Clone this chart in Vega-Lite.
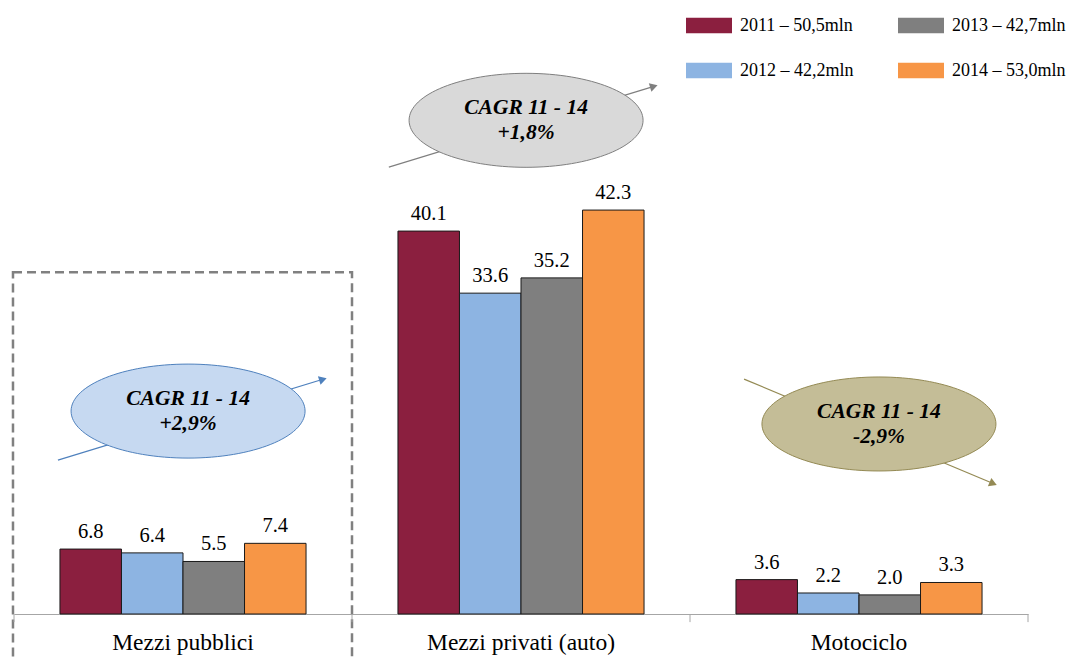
{
  "$schema": "https://vega.github.io/schema/vega-lite/v6.json",
  "width": 1014,
  "height": 614,
  "autosize": {"type": "none"},
  "padding": {"left": 14, "top": 0, "right": 40, "bottom": 47},
  "background": "white",
  "config": {"view": {"stroke": null}, "font": "Liberation Serif, Times New Roman, DejaVu Serif, serif"},
  "datasets": {
    "barre": [
      {"cat": "Mezzi pubblici", "serie": "2011 – 50,5mln", "val": 6.8},
      {"cat": "Mezzi pubblici", "serie": "2012 – 42,2mln", "val": 6.4},
      {"cat": "Mezzi pubblici", "serie": "2013 – 42,7mln", "val": 5.5},
      {"cat": "Mezzi pubblici", "serie": "2014 – 53,0mln", "val": 7.4},
      {"cat": "Mezzi privati (auto)", "serie": "2011 – 50,5mln", "val": 40.1},
      {"cat": "Mezzi privati (auto)", "serie": "2012 – 42,2mln", "val": 33.6},
      {"cat": "Mezzi privati (auto)", "serie": "2013 – 42,7mln", "val": 35.2},
      {"cat": "Mezzi privati (auto)", "serie": "2014 – 53,0mln", "val": 42.3},
      {"cat": "Motociclo", "serie": "2011 – 50,5mln", "val": 3.6},
      {"cat": "Motociclo", "serie": "2012 – 42,2mln", "val": 2.2},
      {"cat": "Motociclo", "serie": "2013 – 42,7mln", "val": 2.0},
      {"cat": "Motociclo", "serie": "2014 – 53,0mln", "val": 3.3}
    ],
    "cagr": [
      {"grp": "pubblici", "u": 0.515, "v": 21.25, "testo": "CAGR 11 - 14\n+2,9%"},
      {"grp": "privati", "u": 1.515, "v": 51.7, "testo": "CAGR 11 - 14\n+1,8%"},
      {"grp": "moto", "u": 2.559, "v": 19.9, "testo": "CAGR 11 - 14\n-2,9%"}
    ],
    "frecce": [
      {"grp": "pubblici", "u": 0.130, "v": 16.12, "u2": 0.914, "v2": 24.58},
      {"grp": "privati", "u": 1.109, "v": 46.8, "u2": 1.893, "v2": 55.26},
      {"grp": "moto", "u": 2.160, "v": 24.6, "u2": 2.897, "v2": 13.66}
    ],
    "riquadro": [
      {"u": -0.003, "v": 35.8, "u2": 1.0, "v2": -6}
    ],
    "tacche": [
      {"u": 0, "v": 0, "v2": -0.85},
      {"u": 1, "v": 0, "v2": -0.85},
      {"u": 2, "v": 0, "v2": -0.85},
      {"u": 3, "v": 0, "v2": -0.85}
    ]
  },
  "layer": [
    {
      "data": {"name": "barre"},
      "encoding": {
        "x": {
          "field": "cat",
          "type": "nominal",
          "sort": ["Mezzi pubblici", "Mezzi privati (auto)", "Motociclo"],
          "scale": {"paddingInner": 0.272, "paddingOuter": 0.136},
          "axis": {
            "title": null,
            "ticks": false,
            "grid": false,
            "domainColor": "#A6A6A6",
            "domainWidth": 1,
            "labelFont": "Liberation Serif, Times New Roman, DejaVu Serif, serif",
            "labelFontSize": 23.5,
            "labelColor": "#000000",
            "labelPadding": 16,
            "labelLimit": 400,
            "labelAngle": 0
          }
        },
        "xOffset": {
          "field": "serie",
          "type": "nominal",
          "sort": ["2011 – 50,5mln", "2012 – 42,2mln", "2013 – 42,7mln", "2014 – 53,0mln"],
          "scale": {"paddingInner": 0, "paddingOuter": 0}
        },
        "y": {
          "field": "val",
          "type": "quantitative",
          "scale": {"domain": [0, 64.3], "nice": false, "zero": false},
          "axis": null
        }
      },
      "layer": [
        {
          "mark": {"type": "bar", "stroke": "#1a1a1a", "strokeWidth": 1},
          "encoding": {
            "color": {
              "field": "serie",
              "type": "nominal",
              "scale": {
                "domain": ["2011 – 50,5mln", "2012 – 42,2mln", "2013 – 42,7mln", "2014 – 53,0mln"],
                "range": ["#8B1F3F", "#8DB4E2", "#7F7F7F", "#F79646"]
              },
              "legend": {
                "title": null,
                "orient": "none",
                "legendX": 672,
                "legendY": 2.5,
                "columns": 2,
                "padding": 0,
                "columnPadding": 44,
                "rowPadding": 13,
                "symbolType": "M-1,-0.34H1V0.34H-1Z",
                "symbolSize": 2116,
                "symbolStrokeWidth": 0,
                "symbolOpacity": 1,
                "labelFont": "Liberation Serif, Times New Roman, DejaVu Serif, serif",
                "labelFontSize": 18,
                "labelColor": "#000000",
                "labelOffset": 8,
                "labelLimit": 400
              }
            }
          }
        },
        {
          "mark": {"type": "text", "dy": -11, "baseline": "alphabetic", "fontSize": 20.5, "color": "#000000", "font": "Liberation Serif, Times New Roman, DejaVu Serif, serif"},
          "encoding": {
            "text": {"field": "val", "type": "quantitative", "format": ".1f"}
          }
        }
      ]
    },
    {
      "layer": [
        {
          "data": {"name": "riquadro"},
          "mark": {"type": "rect", "fill": "transparent", "stroke": "#808080", "strokeWidth": 2.5, "strokeDash": [9, 5], "clip": false},
          "encoding": {
            "x": {"field": "u", "type": "quantitative", "scale": {"domain": [0, 3], "nice": false, "zero": false}, "axis": null},
            "x2": {"field": "u2"},
            "y": {"field": "v", "type": "quantitative", "scale": {"domain": [0, 64.3], "nice": false, "zero": false}, "axis": null},
            "y2": {"field": "v2"}
          }
        },
        {
          "data": {"name": "tacche"},
          "mark": {"type": "rule", "stroke": "#A6A6A6", "strokeWidth": 1},
          "encoding": {
            "x": {"field": "u", "type": "quantitative", "scale": {"domain": [0, 3], "nice": false, "zero": false}, "axis": null},
            "y": {"field": "v", "type": "quantitative", "scale": {"domain": [0, 64.3], "nice": false, "zero": false}, "axis": null},
            "y2": {"field": "v2"}
          }
        },
        {
          "data": {"name": "frecce"},
          "mark": {"type": "rule", "strokeWidth": 1.2},
          "encoding": {
            "x": {"field": "u", "type": "quantitative", "scale": {"domain": [0, 3], "nice": false, "zero": false}, "axis": null},
            "x2": {"field": "u2"},
            "y": {"field": "v", "type": "quantitative", "scale": {"domain": [0, 64.3], "nice": false, "zero": false}, "axis": null},
            "y2": {"field": "v2"},
            "stroke": {
              "field": "grp",
              "type": "nominal",
              "scale": {"domain": ["pubblici", "privati", "moto"], "range": ["#4F81BD", "#7F7F7F", "#948A54"]},
              "legend": null
            }
          }
        },
        {
          "data": {"name": "cagr"},
          "mark": {
            "type": "point",
            "filled": true,
            "opacity": 1,
            "strokeWidth": 1,
            "size": 54756,
            "shape": "M-1,0C-1,-0.222,-0.5523,-0.4017,0,-0.4017C0.5523,-0.4017,1,-0.222,1,0C1,0.222,0.5523,0.4017,0,0.4017C-0.5523,0.4017,-1,0.222,-1,0Z"
          },
          "encoding": {
            "x": {"field": "u", "type": "quantitative", "scale": {"domain": [0, 3], "nice": false, "zero": false}, "axis": null},
            "y": {"field": "v", "type": "quantitative", "scale": {"domain": [0, 64.3], "nice": false, "zero": false}, "axis": null},
            "fill": {
              "field": "grp",
              "type": "nominal",
              "scale": {"domain": ["pubblici", "privati", "moto"], "range": ["#C6D9F1", "#D9D9D9", "#C4BD97"]},
              "legend": null
            },
            "stroke": {
              "field": "grp",
              "type": "nominal",
              "scale": {"domain": ["pubblici", "privati", "moto"], "range": ["#4F81BD", "#7F7F7F", "#948A54"]},
              "legend": null
            }
          }
        },
        {
          "data": {"name": "cagr"},
          "mark": {
            "type": "text",
            "align": "center",
            "baseline": "alphabetic",
            "dy": -6,
            "fontSize": 21.5,
            "fontStyle": "italic",
            "fontWeight": "bold",
            "font": "Liberation Serif, Times New Roman, DejaVu Serif, serif",
            "lineBreak": "\n",
            "lineHeight": 25,
            "color": "#000000"
          },
          "encoding": {
            "x": {"field": "u", "type": "quantitative", "scale": {"domain": [0, 3], "nice": false, "zero": false}, "axis": null},
            "y": {"field": "v", "type": "quantitative", "scale": {"domain": [0, 64.3], "nice": false, "zero": false}, "axis": null},
            "text": {"field": "testo", "type": "nominal"}
          }
        },
        {
          "data": {"name": "frecce"},
          "transform": [{"filter": "datum.grp !== 'moto'"}],
          "mark": {"type": "point", "shape": "triangle-right", "angle": 343, "size": 80, "filled": true, "opacity": 1, "strokeWidth": 0},
          "encoding": {
            "x": {"field": "u2", "type": "quantitative", "scale": {"domain": [0, 3], "nice": false, "zero": false}, "axis": null},
            "y": {"field": "v2", "type": "quantitative", "scale": {"domain": [0, 64.3], "nice": false, "zero": false}, "axis": null},
            "fill": {
              "field": "grp",
              "type": "nominal",
              "scale": {"domain": ["pubblici", "privati", "moto"], "range": ["#4F81BD", "#7F7F7F", "#948A54"]},
              "legend": null
            }
          }
        },
        {
          "data": {"name": "frecce"},
          "transform": [{"filter": "datum.grp === 'moto'"}],
          "mark": {"type": "point", "shape": "triangle-right", "angle": 23, "size": 80, "filled": true, "opacity": 1, "strokeWidth": 0, "fill": "#948A54"},
          "encoding": {
            "x": {"field": "u2", "type": "quantitative", "scale": {"domain": [0, 3], "nice": false, "zero": false}, "axis": null},
            "y": {"field": "v2", "type": "quantitative", "scale": {"domain": [0, 64.3], "nice": false, "zero": false}, "axis": null}
          }
        }
      ],
      "resolve": {"scale": {"fill": "independent"}}
    }
  ],
  "resolve": {"scale": {"x": "independent"}}
}
